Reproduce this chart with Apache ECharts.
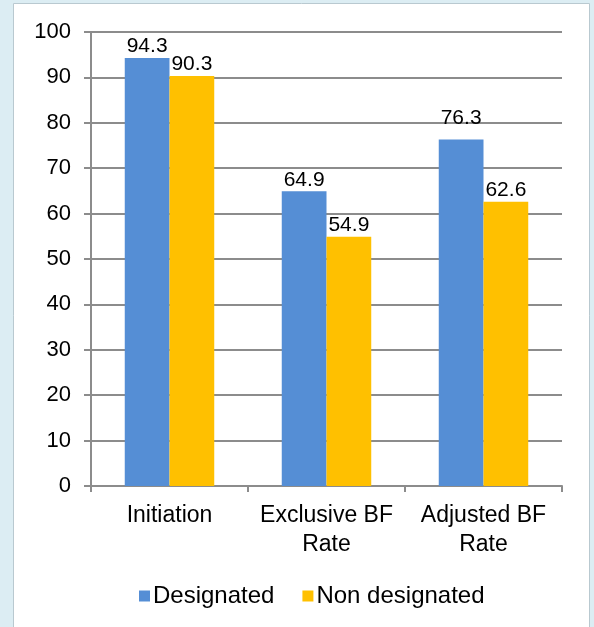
<!DOCTYPE html>
<html>
<head>
<meta charset="utf-8">
<script src="https://cdn.jsdelivr.net/npm/echarts@6/dist/echarts.min.js"></script>
<style>
    html, body { margin: 0; padding: 0; background: #dcedf3; }
    #chart { width: 594px; height: 627px; }
</style>
</head>
<body>
<div id="chart"></div>
<script>
// Chart data
const categories = ['Initiation', 'Exclusive BF\nRate', 'Adjusted BF\nRate'];
const designated = [94.3, 64.9, 76.3];
const nonDesignated = [90.3, 54.9, 62.6];
const seriesNames = ['Designated', 'Non designated'];

const FONT_FAMILY = '"Liberation Sans", Arial, sans-serif';
const COLORS = ['#558ed5', '#ffc000'];

const labelStyle = {
    show: true,
    position: 'top',
    distance: 1,
    color: '#000',
    fontSize: 21,
    fontFamily: FONT_FAMILY
};

// the Adjusted BF label sits higher above its bar in the original
const designatedData = designated.map((v, i) =>
    i === 2 ? { value: v, label: { distance: 11 } } : v);

const chart = echarts.init(document.getElementById('chart'));
chart.setOption({
    backgroundColor: 'transparent',
    animation: false,
    textStyle: { fontFamily: FONT_FAMILY },
    graphic: [{
        type: 'rect',
        z: -10,
        shape: { x: 13.5, y: 3.5, width: 576, height: 640 },
        style: { fill: '#fff', stroke: '#b9c9d0', lineWidth: 1 }
    }],
    grid: { left: 91, right: 32, top: 32, bottom: 141 },
    legend: {
        data: seriesNames,
        bottom: 14,
        left: 134,
        itemWidth: 11,
        itemHeight: 11,
        itemGap: 28,
        icon: 'rect',
        textStyle: { fontSize: 24, color: '#000', padding: [0, 0, 0, -2] }
    },
    xAxis: {
        type: 'category',
        data: categories,
        axisLine: { lineStyle: { color: '#8c8c8c', width: 2 } },
        axisTick: { show: true, length: 6, lineStyle: { color: '#8c8c8c', width: 2 } },
        axisLabel: {
            color: '#000',
            fontSize: 23,
            lineHeight: 29,
            margin: 15,
            interval: 0
        }
    },
    yAxis: {
        type: 'value',
        min: 0,
        max: 100,
        interval: 10,
        axisLine: { show: true, lineStyle: { color: '#8c8c8c', width: 2 } },
        axisTick: { show: true, length: 7, lineStyle: { color: '#8c8c8c', width: 2 } },
        splitLine: { lineStyle: { color: '#8c8c8c', width: 2 } },
        axisLabel: { color: '#000', fontSize: 22, margin: 20 }
    },
    series: [
        {
            name: seriesNames[0],
            type: 'bar',
            data: designatedData,
            barGap: '0%',
            barCategoryGap: '43%',
            itemStyle: { color: COLORS[0] },
            label: labelStyle
        },
        {
            name: seriesNames[1],
            type: 'bar',
            data: nonDesignated,
            itemStyle: { color: COLORS[1] },
            label: labelStyle
        }
    ]
});
</script>
</body>
</html>
